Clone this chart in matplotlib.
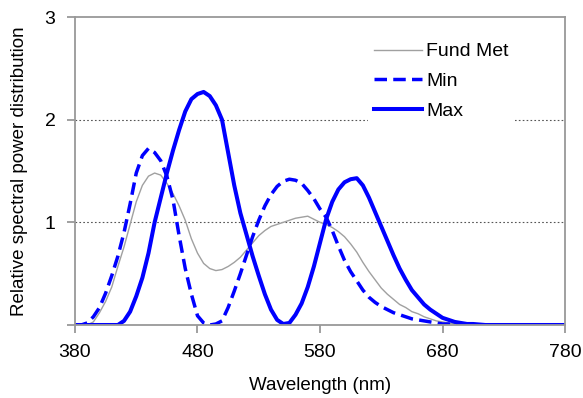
import numpy as np
import matplotlib.pyplot as plt

plt.rcParams['font.family'] = ['Liberation Sans', 'DejaVu Sans']

# wavelengths (nm), 5 nm steps 380..780
wavelength = np.arange(380, 785, 5)

fund_met = [0, 0, 0.0, 0.03, 0.12, 0.23, 0.37, 0.57, 0.76, 0.98,      # 380-425
            1.2, 1.36, 1.45, 1.48, 1.46, 1.38, 1.28, 1.16, 1.02, 0.84,  # 430-475
            0.7, 0.6, 0.55, 0.53, 0.54, 0.57, 0.61, 0.66, 0.73, 0.8,    # 480-525
            0.87, 0.92, 0.96, 0.98, 1.0, 1.02, 1.04, 1.05, 1.06, 1.03,  # 530-575
            1.0, 0.98, 0.95, 0.91, 0.86, 0.79, 0.71, 0.61, 0.52, 0.44,  # 580-625
            0.36, 0.3, 0.25, 0.2, 0.17, 0.13, 0.11, 0.08, 0.06, 0.04,   # 630-675
            0.03, 0.02, 0.01, 0.005, 0, 0, 0, 0, 0, 0,                  # 680-725
            0, 0, 0, 0, 0, 0, 0, 0, 0, 0, 0]                            # 730-780
min_spd = [0, 0, 0.02, 0.08, 0.17, 0.31, 0.48, 0.67, 0.9, 1.18,
           1.48, 1.65, 1.72, 1.68, 1.6, 1.45, 1.22, 0.87, 0.55, 0.3,
           0.09, 0.02, 0.0, 0.01, 0.04, 0.17, 0.33, 0.5, 0.68, 0.86,
           1.02, 1.16, 1.27, 1.35, 1.4, 1.42, 1.41, 1.38, 1.31, 1.23,
           1.13, 1.05, 0.92, 0.77, 0.63, 0.52, 0.43, 0.34, 0.27, 0.22,
           0.18, 0.15, 0.12, 0.1, 0.08, 0.06, 0.05, 0.04, 0.03, 0.02,
           0.01, 0.01, 0.0, 0, 0, 0, 0, 0, 0, 0,
           0, 0, 0, 0, 0, 0, 0, 0, 0, 0, 0]
max_spd = [0, 0, 0, 0, 0, 0, 0, 0, 0.04, 0.13,
           0.28, 0.46, 0.7, 1.0, 1.24, 1.48, 1.7, 1.9, 2.08, 2.2,
           2.25, 2.27, 2.23, 2.14, 2.0, 1.68, 1.36, 1.09, 0.88, 0.67,
           0.48, 0.3, 0.15, 0.05, 0.01, 0.02, 0.1, 0.21, 0.37, 0.57,
           0.8, 1.03, 1.2, 1.32, 1.39, 1.42, 1.43, 1.36, 1.24, 1.1,
           0.96, 0.82, 0.68, 0.55, 0.44, 0.34, 0.27, 0.2, 0.15, 0.11,
           0.07, 0.05, 0.03, 0.02, 0.01, 0.01, 0.005, 0, 0, 0,
           0, 0, 0, 0, 0, 0, 0, 0, 0, 0, 0]

fig = plt.figure(figsize=(5.83, 3.98), dpi=100)
ax = fig.add_axes([75/583, 73/398, 490/583, 308/398])

ax.plot(wavelength, fund_met, color='#a0a0a0', lw=1.0, label='Fund Met')
ax.plot(wavelength, min_spd, color='#0000ff', lw=2.5, ls=(0, (3.6, 1.8)),
        dash_capstyle='butt', label='Min')
ax.plot(wavelength, max_spd, color='#0000ff', lw=2.9, label='Max')

ax.set_xlim(380, 780)
ax.set_ylim(0, 3)
ax.set_xticks([380, 480, 580, 680, 780])
ax.set_yticks([0, 1, 2, 3])
ax.set_yticklabels(['', '1', '2', '3'])
for y in [1, 2]:
    ax.axhline(y, color='#555555', lw=0.8, ls=(0, (1.5, 2)), zorder=0)

for s in ax.spines.values():
    s.set_color('#999999')
    s.set_linewidth(1.3)
ax.tick_params(direction='out', length=6, width=1.3, color='#999999',
               labelsize=14, pad=8)

ax.set_xlabel('Wavelength (nm)', fontsize=13.5, labelpad=11)
ax.set_ylabel('Relative spectral power distribution', fontsize=13.5, labelpad=12)

leg = ax.legend(loc='upper left', fontsize=14,
                handlelength=2.5, handletextpad=0.2, labelspacing=0.62,
                frameon=True, framealpha=1, facecolor='white',
                edgecolor='none', borderpad=0.3, borderaxespad=0)
leg.get_frame().set_boxstyle('square', pad=0)
leg.set_bbox_to_anchor((368/583, 1 - 37/398), transform=fig.transFigure)

fig.savefig('out.png', dpi=100)
